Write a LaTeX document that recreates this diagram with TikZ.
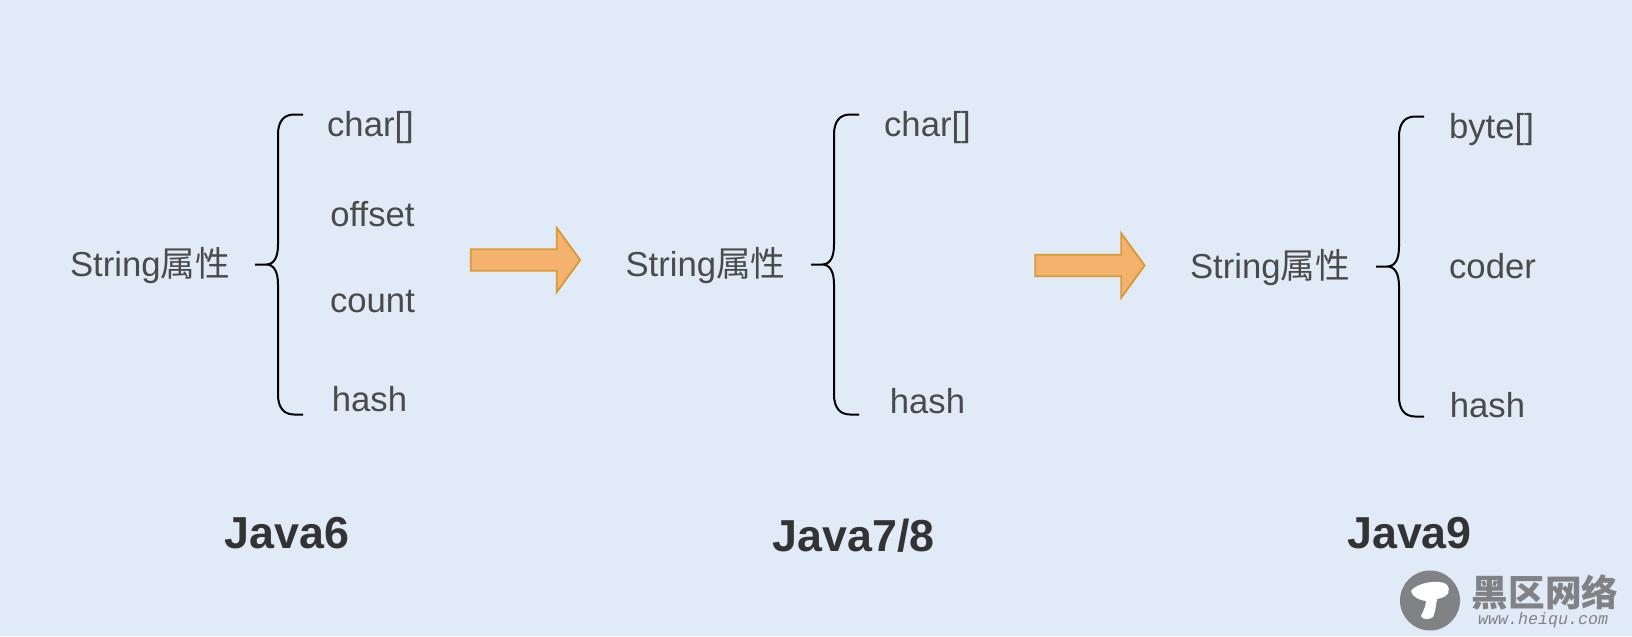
\documentclass[tikz,border=0pt]{standalone}
\usepackage{fontspec}
\setmainfont{Liberation Sans}
\newfontfamily\cjkfont{Noto Sans CJK SC}
\newfontfamily\markfont{Liberation Mono}
\usetikzlibrary{positioning,shapes.arrows}
\definecolor{bgblue}{HTML}{E1EBF7}
\definecolor{attrgray}{HTML}{4A4A4A}
\definecolor{javagray}{HTML}{333333}
\definecolor{arrowfill}{HTML}{F5B26F}
\definecolor{arrowline}{HTML}{D79B36}
\definecolor{markgray}{HTML}{808285}
\tikzset{
	x=0.75pt, y=-0.75pt, % one unit is one pixel of the reference
	attr/.style={text=attrgray, inner sep=0pt, font=\fontsize{26}{30}\selectfont}, % texts beside a brace
	title/.style={text=javagray, inner sep=0pt, font=\fontsize{33.6}{38}\selectfont\bfseries}, % version names
	bigarrow/.style={single arrow, draw=arrowline, fill=arrowfill, line width=1.4pt, inner xsep=0pt, inner ysep=7.4pt,
		minimum height=82pt, single arrow head extend=16pt, single arrow tip angle=108},
	attrbrace/.pic={
		\draw[black, line width=1.5pt] (25,-150) -- (16,-150) .. controls (5,-150) and (0,-142) .. (0,-130)
			-- (0,-20) .. controls (0,-7) and (-4,0) .. (-12,0) -- (-23,0)
			(-12,0) .. controls (-4,0) and (0,7) .. (0,20)
			-- (0,130) .. controls (0,142) and (5,150) .. (16,150) -- (25,150);
	},
}
\begin{document}
\begin{tikzpicture}
	\useasboundingbox (0,0) rectangle (1632,636);
	\fill[bgblue] (0,0) rectangle (1632,636);
	
	% Java6
	\node[attr] (s1) at (150,265.5) {String{\cjkfont 属性}};
	\pic at (278,264.5) {attrbrace};
	\node[attr] (c1) at (370.5,128) {char[]};
	\node[attr] (o1) at (372.5,214.5) {offset};
	\node[attr] (n1) at (372.5,301) {count};
	\node[attr] (h1) at (369.5,399.5) {hash};
	\node[title] (j1) at (287,533) {Java6};
	
	\node[bigarrow] (a1) at (521.5,260) {};
	
	% Java7/8
	\node[attr] (s2) at (705.5,265.5) {String{\cjkfont 属性}};
	\pic at (834,264.5) {attrbrace};
	\node[attr] (c2) at (927.5,128) {char[]};
	\node[attr] (h2) at (927.5,401.5) {hash};
	\node[title] (j2) at (853.5,536) {Java7/8};
	
	\node[bigarrow] (a2) at (1086,265.5) {};
	
	% Java9
	\node[attr] (s3) at (1270,267.5) {String{\cjkfont 属性}};
	\pic at (1399,266.5) {attrbrace};
	\node[attr] (b3) at (1491.5,130) {byte[]};
	\node[attr] (c3) at (1492.5,266.5) {coder};
	\node[attr] (h3) at (1487.5,405.5) {hash};
	\node[title] (j3) at (1409.5,533) {Java9};
	
	% mark in the corner
	\fill[markgray] (1430,600.5) circle (30);
	\fill[white] (1411,591) .. controls (1416,583) and (1438,579) .. (1446,584)
		.. controls (1452,590) and (1449,597) .. (1437,599) .. controls (1436,606) and (1435,613) .. (1433,617)
		.. controls (1429,620) and (1423,620) .. (1421,616) .. controls (1424,610) and (1426,605) .. (1426,601)
		.. controls (1418,600) and (1412,596) .. (1411,591) -- cycle;
	\node[text=markgray, inner sep=0pt, font=\fontsize{27.5}{30}\selectfont\cjkfont\bfseries] (m1) at (1545,592) {黑区网络};
	\node[text=markgray, inner sep=0pt, font=\fontsize{12.5}{14}\selectfont\markfont\itshape] (m2) at (1543,620) {www.heiqu.com};
\end{tikzpicture}
\end{document}
